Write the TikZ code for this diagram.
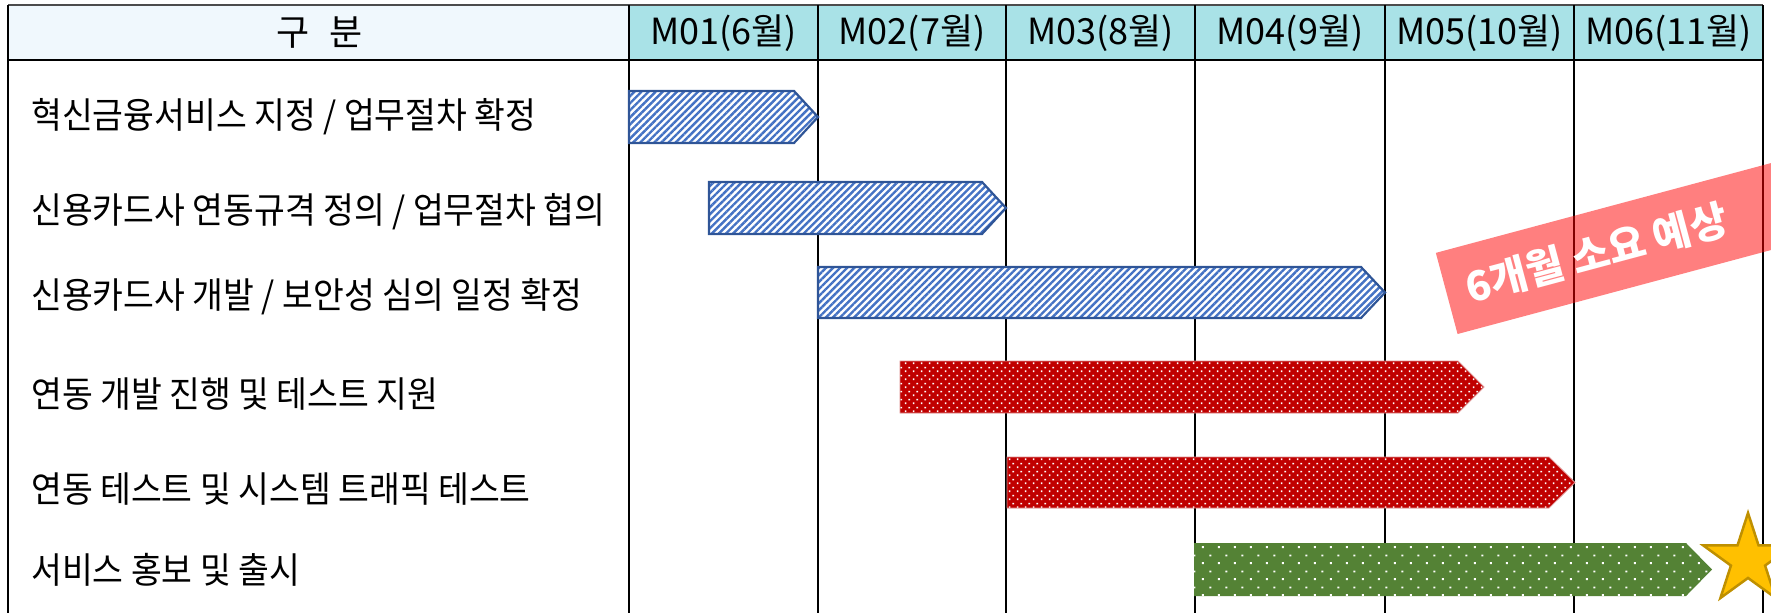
\documentclass[tikz,border=0pt]{standalone}
\usepackage{fontspec}
\setmainfont{Noto Sans CJK KR}
\newfontfamily\narrowkr[FakeStretch=0.93]{Noto Sans CJK KR}
\usetikzlibrary{patterns,patterns.meta,shapes.geometric}

\definecolor{headcell}{HTML}{F0F8FD}
\definecolor{monthcell}{HTML}{A9E2E7}
\definecolor{planblue}{HTML}{4472C4}
\definecolor{planblueline}{HTML}{2F5597}
\definecolor{devred}{HTML}{C00000}
\definecolor{devredline}{HTML}{DC8C8C}
\definecolor{launchgreen}{HTML}{548235}
\definecolor{stargold}{HTML}{FFC000}
\definecolor{stargoldline}{HTML}{BF9000}

% staggered white dot grids for the development and launch bars
\pgfdeclarepatternformonly{densedots}{\pgfpointorigin}{\pgfpoint{8pt}{8pt}}{\pgfpoint{8pt}{8pt}}{%
  \pgfpathrectangle{\pgfpoint{1pt}{1pt}}{\pgfpoint{1.8pt}{1.8pt}}%
  \pgfpathrectangle{\pgfpoint{5pt}{5pt}}{\pgfpoint{1.8pt}{1.8pt}}%
  \pgfusepath{fill}}
\pgfdeclarepatternformonly{sparsedots}{\pgfpointorigin}{\pgfpoint{16pt}{16pt}}{\pgfpoint{16pt}{16pt}}{%
  \pgfpathrectangle{\pgfpoint{2pt}{2pt}}{\pgfpoint{2pt}{2pt}}%
  \pgfpathrectangle{\pgfpoint{10pt}{10pt}}{\pgfpoint{2pt}{2pt}}%
  \pgfusepath{fill}}

% chevron bar: style, left x, tip x, top y, bottom y, tip length
\newcommand\ganttbar[6]{%
  \path[#1] (#2,#4) -- ({#3-#6},#4) -- (#3,{(#4+#5)/2}) -- ({#3-#6},#5) -- (#2,#5) -- cycle;}

\tikzset{
  gridline/.style={black, line width=1.6pt},
  headline/.style={black, line width=2.6pt},
  planbar/.style={preaction={fill=white},
    pattern={Lines[angle=45,distance=5pt,line width=2.4pt]}, pattern color=planblue,
    draw=planblueline, line width=2.2pt, line join=miter},
  devbar/.style={preaction={fill=devred}, pattern=densedots, pattern color=white,
    draw=devredline, line width=0.8pt},
  launchbar/.style={preaction={fill=launchgreen}, pattern=sparsedots, pattern color=white},
  rowlabel/.style={anchor=west, inner sep=0pt, font=\narrowkr\fontsize{36}{40}\selectfont},
  monthlabel/.style={inner sep=0pt, font=\fontsize{36}{40}\selectfont},
  banner/.style={anchor=west, rotate=15, fill=red, fill opacity=0.5, text opacity=1,
    text=white, font=\bfseries\fontsize{41}{44}\selectfont,
    minimum height=84pt, inner xsep=20pt, inner ysep=0pt},
}

\begin{document}
\begin{tikzpicture}[x=1pt, y=-1pt]
\useasboundingbox (0,0) rectangle (1771,613);
\clip (0,0) rectangle (1771,613);

% header cells
\fill[headcell] (8,5) rectangle (629,60);
\fill[monthcell] (629,5) rectangle (1763,60);

% table frame and month columns
\draw[black!70, line width=1.4pt] (8,5) -- (1763,5);
\draw[gridline] (8,5) -- (8,613);
\draw[gridline] (1763,5) -- (1763,613);
\foreach \cx in {629,818,1006,1195,1385,1574}
  \draw[gridline] (\cx,5) -- (\cx,613);
\draw[headline] (8,60) -- (1763,60);

% header texts
\node[monthlabel] (kind) at (320,33) {구\hspace{0.55em}분};
\node[monthlabel] (m1) at (723.5,33) {M01(6월)};
\node[monthlabel] (m2) at (912,33) {M02(7월)};
\node[monthlabel] (m3) at (1100.5,33) {M03(8월)};
\node[monthlabel] (m4) at (1290,33) {M04(9월)};
\node[monthlabel] (m5) at (1479.5,33) {M05(10월)};
\node[monthlabel] (m6) at (1668.5,33) {M06(11월)};

% task names
\node[rowlabel] (t1) at (31,117) {혁신금융서비스 지정 / 업무절차 확정};
\node[rowlabel] (t2) at (31,212) {신용카드사 연동규격 정의 / 업무절차 협의};
\node[rowlabel] (t3) at (31,297) {신용카드사 개발 / 보안성 심의 일정 확정};
\node[rowlabel] (t4) at (31,394) {연동 개발 진행 및 테스트 지원};
\node[rowlabel] (t5) at (31,489) {연동 테스트 및 시스템 트래픽 테스트};
\node[rowlabel] (t6) at (31,570) {서비스 홍보 및 출시};

% estimate banner
\node[banner] (estimate) at (1446.5,293.5) {\makebox[420pt][l]{6개월 소요 예상}};

% schedule bars
\ganttbar{planbar}{629}{818}{91}{143}{24}
\ganttbar{planbar}{709}{1006}{182}{234}{24}
\ganttbar{planbar}{818}{1385}{267}{318}{24}
\ganttbar{devbar}{900}{1484}{361}{413}{26}
\ganttbar{devbar}{1007}{1575}{457}{508}{26}
\ganttbar{launchbar}{1194}{1712}{543}{596}{26}

% launch milestone
\node[star, star points=5, star point ratio=2.618, minimum size=94pt, inner sep=0pt,
  fill=stargold, draw=stargoldline, line width=2.5pt] (launch) at (1748,560) {};
\end{tikzpicture}
\end{document}
